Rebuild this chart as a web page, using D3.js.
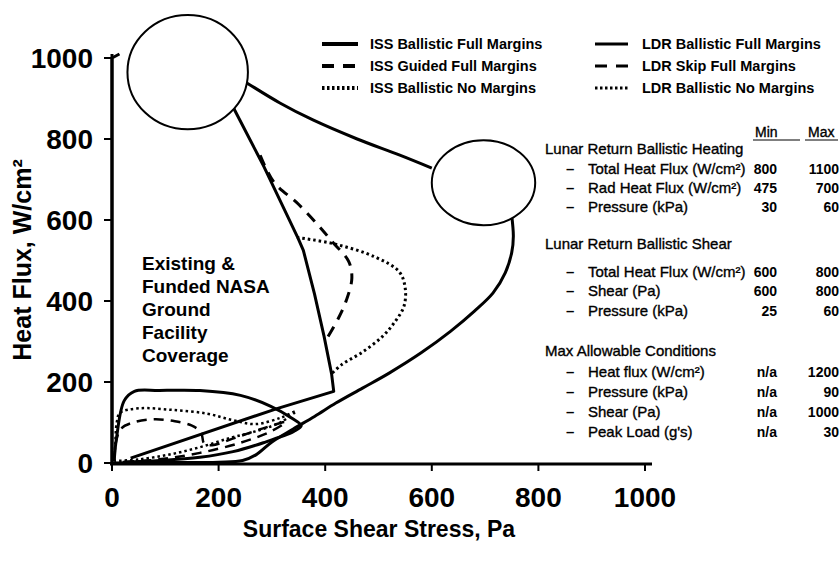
<!DOCTYPE html>
<head>
<meta charset="utf-8">
<title>Heat flux vs shear</title>
<script src="https://d3js.org/d3.v7.min.js"></script>
<style>
body { margin: 0; background: #fff; }
text { font-family: "Liberation Sans", Arial, sans-serif; fill: #000; }
.tbl { stroke: #000; stroke-width: 0.35px; }
</style>
</head>
<body>
<div id="chart"></div>
<script>
// axis ticks
var xTicks = [0, 200, 400, 600, 800, 1000];
var yTicks = [0, 200, 400, 600, 800, 1000];

// facility coverage envelope (shear Pa, heat W/cm2)
var envLeft = [[0, 0], [0, 1000], [14, 1010]];
var envUpper = [[250, 941], [315, 889], [377, 847], [460, 800], [540, 760], [600, 728]];
var envLower = [[750, 610], [753, 560], [750, 520], [738, 470], [715, 420], [680, 375], [635, 325],
  [580, 272], [520, 222], [470, 185], [420, 148], [380, 115], [340, 84], [300, 52], [270, 20],
  [245, 6], [200, 2], [100, 1], [0, 0]];

// target zones: cx, cy, rx, ry
var heatingZone = [142, 965, 113, 141];
var shearZone = [697, 692, 97, 105];

// LDR trajectories
var ldrBallistic = [[220, 900], [231, 869], [285, 732], [349, 555], [359, 525], [380, 417], [398, 312],
  [412, 220], [416, 177], [311, 135], [35, 12]];
var ldrSkip = [[278, 760], [304, 693], [349, 640], [393, 578], [412, 548], [444, 498], [450, 456],
  [440, 403], [425, 358], [400, 300]];
var ldrNoMargin = [[347, 557], [417, 541], [493, 509], [539, 472], [550, 433], [548, 388], [531, 349],
  [507, 312], [469, 273], [431, 243], [412, 220]];

// ISS trajectories
var issBallistic = [[4, 5], [9, 67], [23, 154], [42, 177], [89, 179], [165, 179], [241, 167], [298, 140],
  [336, 112], [355, 92], [341, 78], [284, 50], [227, 28], [165, 14], [90, 6], [20, 2]];
var issGuided = [[4, 5], [8, 55], [17, 85], [42, 101], [80, 108], [118, 103], [150, 92], [167, 76],
  [173, 48], [188, 44], [231, 62], [282, 85], [326, 101], [298, 78], [241, 50], [165, 25], [89, 9], [13, 2]];
var issNoMargin = [[4, 5], [6, 44], [9, 101], [15, 124], [51, 135], [114, 131], [178, 122], [226, 106],
  [269, 96], [317, 112], [345, 128], [317, 101], [269, 78], [222, 62], [165, 39], [108, 21], [51, 9], [4, 5]];

// legend
var legendLeft = ["ISS Ballistic Full Margins", "ISS Guided Full Margins", "ISS Ballistic No Margins"];
var legendRight = ["LDR Ballistic Full Margins", "LDR Skip Full Margins", "LDR Ballistic No Margins"];

// requirements table
var heatingTitle = "Lunar Return Ballistic Heating";
var heatingRows = [["Total Heat Flux (W/cm²)", "800", "1100"], ["Rad Heat Flux (W/cm²)", "475", "700"], ["Pressure (kPa)", "30", "60"]];
var shearTitle = "Lunar Return Ballistic Shear";
var shearRows = [["Total Heat Flux (W/cm²)", "600", "800"], ["Shear (Pa)", "600", "800"], ["Pressure (kPa)", "25", "60"]];
var maxTitle = "Max Allowable Conditions";
var maxRows = [["Heat flux (W/cm²)", "n/a", "1200"], ["Pressure (kPa)", "n/a", "90"], ["Shear (Pa)", "n/a", "1000"], ["Peak Load (g's)", "n/a", "30"]];

var coverageLines = ["Existing &", "Funded NASA", "Ground", "Facility", "Coverage"];

var svg = d3.select("#chart").append("svg")
  .attr("width", 840)
  .attr("height", 576);

var x = d3.scaleLinear().domain([0, 1000]).range([112, 645]);
var y = d3.scaleLinear().domain([0, 1000]).range([463, 58]);

var smooth = d3.line().x(function(d) { return x(d[0]); }).y(function(d) { return y(d[1]); }).curve(d3.curveCatmullRom);
var straight = d3.line().x(function(d) { return x(d[0]); }).y(function(d) { return y(d[1]); });

function draw(data, gen, width, dash) {
  svg.append("path")
    .attr("d", gen(data))
    .attr("fill", "none")
    .attr("stroke", "#000")
    .attr("stroke-width", width)
    .attr("stroke-linejoin", "round")
    .attr("stroke-dasharray", dash || null);
}

// envelope
draw(envLeft, straight, 3);
draw(envUpper, smooth, 3);
draw(envLower, smooth, 3);

// trajectories
draw(ldrBallistic, straight, 3);
draw(ldrSkip, smooth, 3, "11,8");
draw(ldrNoMargin, smooth, 3, "2.5,3");
draw(issBallistic, smooth, 3);
draw(issGuided, smooth, 2.5, "10,7");
draw(issNoMargin, smooth, 2.5, "2.5,3");

// zones drawn over the lines
[heatingZone, shearZone].forEach(function(z) {
  svg.append("ellipse")
    .attr("cx", x(z[0]))
    .attr("cy", y(z[1]))
    .attr("rx", x(z[0] + z[2]) - x(z[0]))
    .attr("ry", y(z[1]) - y(z[1] + z[3]))
    .attr("fill", "#fff")
    .attr("stroke", "#000")
    .attr("stroke-width", 2);
});

// axes
svg.append("line").attr("x1", x(0)).attr("x2", x(0)).attr("y1", y(0) + 1).attr("y2", y(1000) - 4)
  .attr("stroke", "#000").attr("stroke-width", 3);
svg.append("line").attr("x1", x(0) - 2).attr("x2", 652).attr("y1", y(0) + 1).attr("y2", y(0) + 1)
  .attr("stroke", "#000").attr("stroke-width", 3);

svg.selectAll(".ytick").data(yTicks).enter().append("line")
  .attr("x1", x(0) - 8).attr("x2", x(0))
  .attr("y1", function(d) { return y(d); }).attr("y2", function(d) { return y(d); })
  .attr("stroke", "#000").attr("stroke-width", 2);
svg.selectAll(".ylab").data(yTicks).enter().append("text")
  .attr("x", 93).attr("y", function(d) { return y(d); })
  .attr("dy", "0.36em")
  .attr("text-anchor", "end")
  .style("font-size", "28px").style("font-weight", "bold")
  .text(function(d) { return d; });

svg.selectAll(".xtick").data(xTicks).enter().append("line")
  .attr("x1", function(d) { return x(d); }).attr("x2", function(d) { return x(d); })
  .attr("y1", y(0) + 1).attr("y2", y(0) + 8)
  .attr("stroke", "#000").attr("stroke-width", 2);
svg.selectAll(".xlab").data(xTicks).enter().append("text")
  .attr("x", function(d) { return x(d); }).attr("y", 507)
  .attr("text-anchor", "middle")
  .style("font-size", "28px").style("font-weight", "bold")
  .text(function(d) { return d; });

svg.append("text")
  .attr("x", 379).attr("y", 537)
  .attr("text-anchor", "middle")
  .style("font-size", "23px").style("font-weight", "bold")
  .text("Surface Shear Stress, Pa");

svg.append("text")
  .attr("transform", "translate(31,260) rotate(-90)")
  .attr("text-anchor", "middle")
  .style("font-size", "25px").style("font-weight", "bold")
  .text("Heat Flux, W/cm²");

// coverage label
svg.selectAll(".cov").data(coverageLines).enter().append("text")
  .attr("x", 142).attr("y", function(d, i) { return 270 + i * 23; })
  .style("font-size", "19px").style("font-weight", "bold")
  .text(function(d) { return d; });

// legend
var dashes = [null, "12,9", "2.5,2.5"];
function legend(items, x1, x2, tx, width) {
  items.forEach(function(d, i) {
    var ly = 44 + i * 22;
    svg.append("line").attr("x1", x1).attr("x2", x2).attr("y1", ly).attr("y2", ly)
      .attr("stroke", "#000").attr("stroke-width", width)
      .attr("stroke-dasharray", dashes[i]);
    svg.append("text").attr("x", tx).attr("y", ly).attr("dy", "0.36em")
      .style("font-size", "14.5px").style("font-weight", "bold")
      .text(d);
  });
}
legend(legendLeft, 322, 358, 370, 4);
legend(legendRight, 595, 628, 642, 3);

// table
svg.append("text").attr("class", "tbl").attr("x", 755).attr("y", 132).attr("dy", "0.36em").style("font-size", "14px").text("Min");
svg.append("text").attr("class", "tbl").attr("x", 808).attr("y", 132).attr("dy", "0.36em").style("font-size", "14px").text("Max");
svg.append("line").attr("x1", 753).attr("x2", 800).attr("y1", 140).attr("y2", 140).attr("stroke", "#000").attr("stroke-width", 1.2);
svg.append("line").attr("x1", 805).attr("x2", 838).attr("y1", 140).attr("y2", 140).attr("stroke", "#000").attr("stroke-width", 1.2);

function group(title, rows, ty, rowY) {
  svg.append("text").attr("class", "tbl").attr("x", 545).attr("y", ty).attr("dy", "0.36em")
    .style("font-size", "15px").text(title);
  rows.forEach(function(r, i) {
    var ry = rowY[i];
    svg.append("text").attr("x", 566).attr("y", ry).attr("dy", "0.36em")
      .style("font-size", "15px").style("font-weight", "bold").text("–");
    svg.append("text").attr("class", "tbl").attr("x", 588).attr("y", ry).attr("dy", "0.36em")
      .style("font-size", "15px").text(r[0]);
    svg.append("text").attr("x", 777).attr("y", ry).attr("dy", "0.36em")
      .attr("text-anchor", "end")
      .style("font-size", "14px").style("font-weight", "bold").text(r[1]);
    svg.append("text").attr("x", 839).attr("y", ry).attr("dy", "0.36em")
      .attr("text-anchor", "end")
      .style("font-size", "14px").style("font-weight", "bold").text(r[2]);
  });
}
group(heatingTitle, heatingRows, 149, [169, 188, 207]);
group(shearTitle, shearRows, 244, [272, 291, 311]);
group(maxTitle, maxRows, 351, [372, 392, 412, 432]);
</script>
</body>
